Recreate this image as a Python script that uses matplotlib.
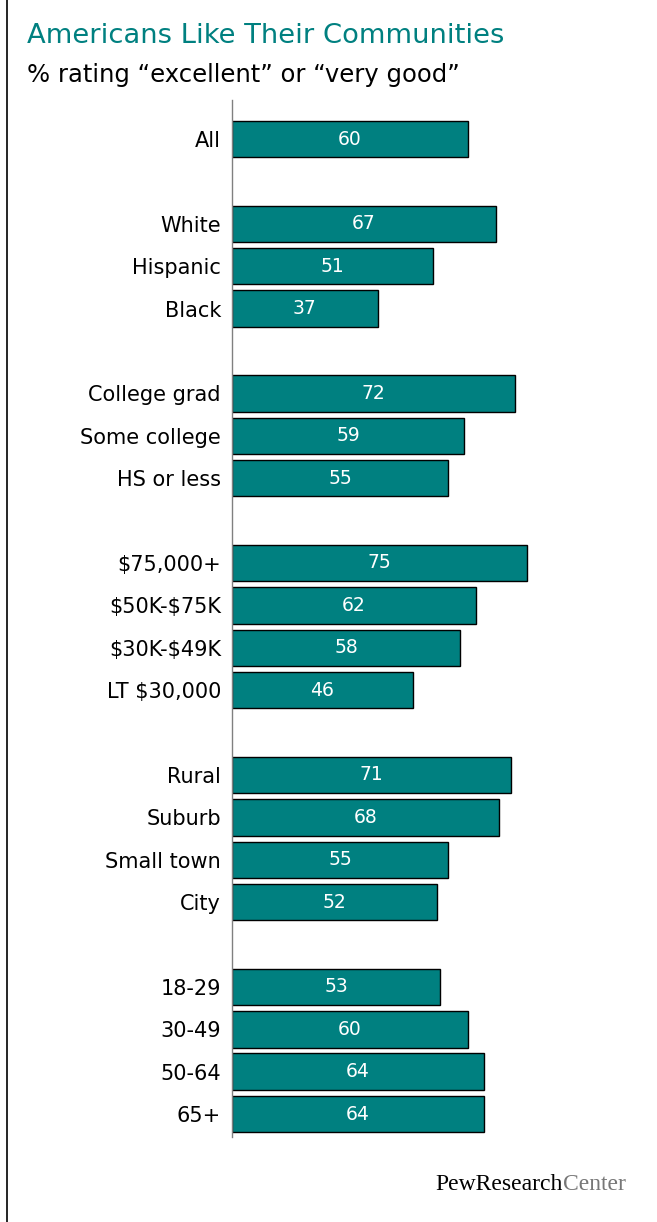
import matplotlib.pyplot as plt
from matplotlib.lines import Line2D

# Data
categories = ['All', '',
              'White', 'Hispanic', 'Black', '',
              'College grad', 'Some college', 'HS or less', '',
              '$75,000+', '$50K-$75K', '$30K-$49K', 'LT $30,000', '',
              'Rural', 'Suburb', 'Small town', 'City', '',
              '18-29', '30-49', '50-64', '65+']
values = [60, None,
          67, 51, 37, None,
          72, 59, 55, None,
          75, 62, 58, 46, None,
          71, 68, 55, 52, None,
          53, 60, 64, 64]

teal = '#008080'
plt.rcParams['font.family'] = ['DejaVu Sans']
plt.rcParams['text.parse_math'] = False

fig = plt.figure(figsize=(6.57, 12.22), dpi=100)
W, H = 657, 1222

# axes: left edge at the vertical line, 100 units ~ 393 px
ax = fig.add_axes([232 / W, 1 - 1137 / H, 393.3 / W, 1037 / H])

for i, (cat, v) in enumerate(zip(categories, values)):
    if v is None:
        continue
    ax.barh(i, v, height=0.86, color=teal, edgecolor='black', linewidth=1.0)
    ax.text(v / 2, i, str(v), ha='center', va='center', color='white', fontsize=13.5)

ax.set_yticks([i for i, c in enumerate(categories) if c])
ax.set_yticklabels([c for c in categories if c], fontsize=15)
ax.tick_params(axis='y', length=0, pad=8)
ax.set_xticks([])
ax.set_xlim(0, 100)
ax.set_ylim(23.54, -0.92)
for s in ['top', 'right', 'bottom']:
    ax.spines[s].set_visible(False)
ax.spines['left'].set_color('#808080')
ax.spines['left'].set_linewidth(1.0)

# titles
fig.text(27 / W, 1 - 43 / H, 'Americans Like Their Communities', color=teal,
         fontsize=19.7, ha='left', va='baseline')
fig.text(27 / W, 1 - 82 / H, '% rating \u201cexcellent\u201d or \u201cvery good\u201d',
         color='black', fontsize=17.5, ha='left', va='baseline')

# logo
fig.text(563 / W, 1 - 1190 / H, 'PewResearch', color='black', fontsize=17,
         family='Liberation Serif', ha='right', va='baseline')
fig.text(563 / W, 1 - 1190 / H, 'Center', color='#777777', fontsize=17,
         family='Liberation Serif', ha='left', va='baseline')

# left border line
fig.add_artist(Line2D([6.5 / W, 6.5 / W], [0, 1], color='black', linewidth=1.2,
                      transform=fig.transFigure))

fig.savefig('out.png', dpi=100)
